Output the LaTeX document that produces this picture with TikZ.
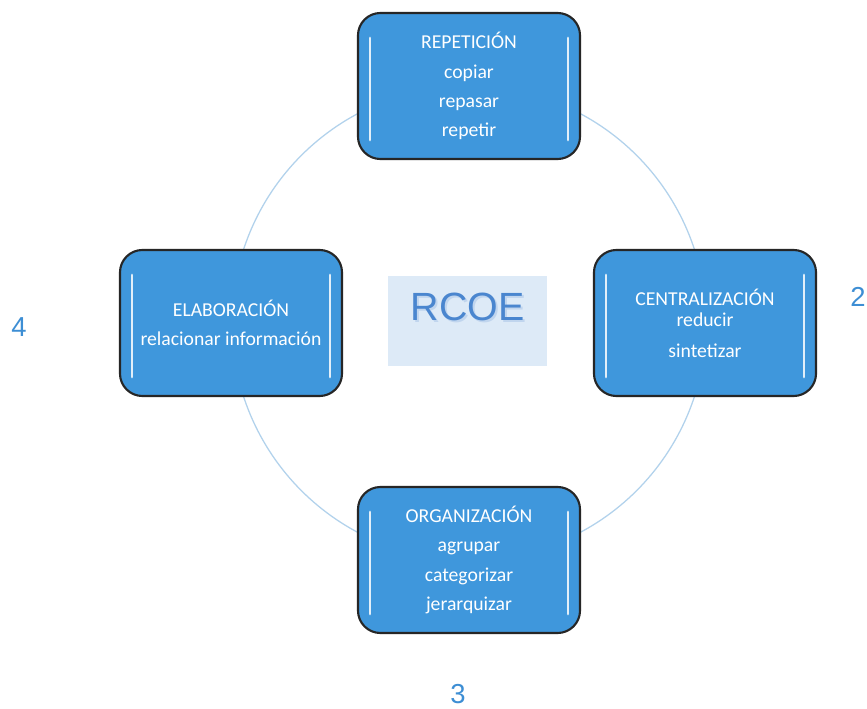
\documentclass[tikz,border=0pt]{standalone}
\usepackage{fontspec}
\setmainfont{Carlito}
\newfontfamily\arialfont{Liberation Sans}
\usetikzlibrary{positioning, calc}
\definecolor{boxblue}{HTML}{3F97DC}
\definecolor{ringblue}{HTML}{B2D2EC}
\definecolor{numblue}{HTML}{3D8ED4}
\definecolor{coreblue}{HTML}{DDEAF7}
\definecolor{titleblue}{HTML}{4A86CF}
\tikzset{
  stage/.style={rectangle, rounded corners=16pt, draw=black!85, line width=1.5pt, fill=boxblue,
    minimum width=5.55cm, minimum height=3.65cm, align=center, text=white,
    font=\fontsize{14}{20.8}\selectfont},
  shine/.style={white, line width=1.8pt, line cap=round, opacity=0.85},
  ring/.style={ringblue, line width=0.9pt},
  stagenum/.style={text=numblue, font=\arialfont\fontsize{19.5}{19.5}\selectfont}
}

\begin{document}
\begin{tikzpicture}[x=0.025cm, y=-0.025cm]
        \useasboundingbox (0,0) rectangle (867,709);
        \fill[white] (0,0) rectangle (867,709);

        % Cycle
        \coordinate (hub) at (469,323);
        \draw[ring] (hub) circle[radius=5.925cm];

        % Centre label
        \node[fill=coreblue, minimum width=3.95cm, minimum height=2.25cm] (core) at (467.5,321) {};
        \node[text=titleblue!35, font=\arialfont\fontsize{28}{28}\selectfont] at (469.5,308.5) {RCOE};
        \node[text=titleblue, font=\arialfont\fontsize{28}{28}\selectfont] (rcoe) at (467.5,306.5) {RCOE};

        % Stages
        \node[stage] (rep) at (469,86) {REPETICIÓN\\copiar\\repasar\\repetir};
        \node[stage] (cen) at (705,323) {CENTRALIZACIÓN\\[-5.6pt]reducir\\[0.8pt]sintetizar};
        \node[stage] (org) at (469,560) {ORGANIZACIÓN\\agrupar\\categorizar\\jerarquizar};
        \node[stage] (ela) at (231,323) {ELABORACIÓN\\relacionar información};

        % Highlights
        \foreach \n in {rep,cen,org,ela} {
          \draw[shine] ($(\n.north west)+(13,26)$) -- ($(\n.south west)+(13,-20)$);
          \draw[shine] ($(\n.north east)+(-13,26)$) -- ($(\n.south east)+(-13,-20)$);
        }

        % Numbers
        \node[stagenum] (two) at (858,297) {2};
        \node[stagenum] (three) at (458,694) {3};
        \node[stagenum] (four) at (19,327) {4};

    \end{tikzpicture}
\end{document}
